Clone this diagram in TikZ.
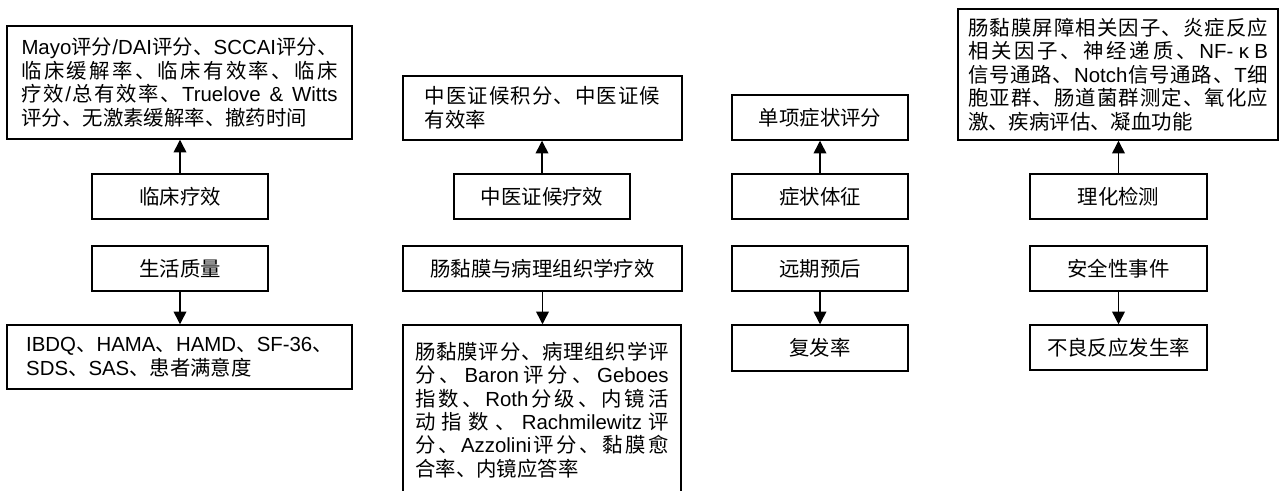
\documentclass[tikz,border=0pt]{standalone}
\usepackage{fontspec}
\setmainfont{Liberation Sans}
\newfontfamily\cjkf{Noto Sans CJK SC}
\usetikzlibrary{arrows.meta}
\newcount\cccnt
\cccnt="4E00
\loop
  \XeTeXcharclass\cccnt=1
  \advance\cccnt by 1
\ifnum\cccnt<"A000 \repeat
\XeTeXcharclass"3001=3
\XeTeXcharclass"3002=3
\newcommand\cg{\hskip 0pt plus 1pt\relax}
\XeTeXinterchartoks 0 1 = {\cg\cjkf}
\XeTeXinterchartoks 0 3 = {\cg\cjkf}
\XeTeXinterchartoks 1 0 = {\cg\rmfamily}
\XeTeXinterchartoks 3 0 = {\cg\rmfamily}
\XeTeXinterchartoks 1 1 = {\cg}
\XeTeXinterchartoks 1 3 = {\cg}
\XeTeXinterchartoks 3 1 = {\cg}
\XeTeXinterchartoks 3 3 = {\cg}
\XeTeXinterchartoks 4095 1 = {\cjkf}
\XeTeXinterchartoks 4095 3 = {\cjkf}
\XeTeXinterchartoks 4095 0 = {\rmfamily}
\newcommand\jline[2]{\hbox to #1{#2}}
\newcommand\lline[2]{\hbox to #1{#2\hfill}}
\newcommand\boxfont{\fontsize{15.3pt}{17.6pt}\selectfont\XeTeXinterchartokenstate=1\relax}
\tikzset{
  bx/.style={draw, line width=1.1pt, rectangle, inner sep=0pt, align=center,
    font=\boxfont},
  arr/.style={line width=1.1pt, -{Triangle[length=9.5pt,width=9.5pt]}},
}
\begin{document}
\begin{tikzpicture}[x=0.75pt,y=-0.75pt]
\useasboundingbox (0,0) rectangle (1282,491);
\clip (0,0) rectangle (1282,491);
% column 1
\node[bx, minimum width=258.75pt, minimum height=84.75pt] (A1) at (179.5,82.5) {\vbox{%
\jline{237pt}{Mayo评分/DAI评分、SCCAI评分、}
\jline{237pt}{临床缓解率、临床有效率、临床}
\jline{237pt}{疗效/总有效率、Truelove \& Witts}
\lline{237pt}{评分、无激素缓解率、撤药时间}}};
\node[bx, minimum width=132pt, minimum height=33.75pt] (A2) at (180,196.5) {临床疗效};
\node[bx, minimum width=132pt, minimum height=33.75pt] (A3) at (180,268.5) {生活质量};
\node[bx, minimum width=258.75pt, minimum height=48pt] (A4) at (179.5,357) {\vbox{%
\jline{230pt}{IBDQ、HAMA、HAMD、SF-36、}
\lline{230pt}{SDS、SAS、患者满意度}}};
% column 2
\node[bx, minimum width=209.25pt, minimum height=48pt] (B1) at (542.5,108) {\vbox{%
\jline{176.5pt}{中医证候积分、中医证候}
\lline{176.5pt}{有效率}}};
\node[bx, minimum width=132pt, minimum height=33.75pt] (B2) at (542,196.5) {中医证候疗效};
\node[bx, minimum width=209.25pt, minimum height=33.75pt] (B3) at (542.5,268.5) {肠黏膜与病理组织学疗效};
\node[bx, minimum width=208.5pt, minimum height=127.5pt] (B4) at (542,410) {\vbox{%
\jline{190pt}{肠黏膜评分、病理组织学评}
\jline{190pt}{分、Baron评分、Geboes}
\jline{190pt}{指数、Roth分级、内镜活}
\jline{190pt}{动指数、Rachmilewitz评}
\jline{190pt}{分、Azzolini评分、黏膜愈}
\lline{190pt}{合率、内镜应答率}}};
% column 3
\node[bx, minimum width=132pt, minimum height=33.75pt] (C1) at (820,117.5) {单项症状评分};
\node[bx, minimum width=132pt, minimum height=33.75pt] (C2) at (820,196.5) {症状体征};
\node[bx, minimum width=132pt, minimum height=33.75pt] (C3) at (820,268.5) {远期预后};
\node[bx, minimum width=132pt, minimum height=34.5pt] (C4) at (820,348) {复发率};
% column 4
\node[bx, minimum width=240pt, minimum height=98.25pt] (D1) at (1118,74.5) {\vbox{%
\jline{225pt}{肠黏膜屏障相关因子、炎症反应}
\jline{225pt}{相关因子、神经递质、NF-\hskip 2pt plus 1pt κ\hskip 2pt plus 1pt B}
\jline{225pt}{信号通路、Notch信号通路、T细}
\jline{225pt}{胞亚群、肠道菌群测定、氧化应}
\lline{225pt}{激、疾病评估、凝血功能}}};
\node[bx, minimum width=132.75pt, minimum height=33.75pt] (D2) at (1118.5,196.5) {理化检测};
\node[bx, minimum width=132.75pt, minimum height=33.75pt] (D3) at (1118.5,268.5) {安全性事件};
\node[bx, minimum width=132.75pt, minimum height=33.75pt] (D4) at (1118.5,347.5) {不良反应发生率};
% arrows
\draw[arr] (A2.north) -- (A1.south -| A2.north);
\draw[arr] (A3.south) -- (A4.north -| A3.south);
\draw[arr] (B2.north) -- (B1.south -| B2.north);
\draw[arr] (B3.south) -- (B4.north -| B3.south);
\draw[arr] (C2.north) -- (C1.south);
\draw[arr] (C3.south) -- (C4.north);
\draw[arr] (D2.north) -- (D1.south -| D2.north);
\draw[arr] (D3.south) -- (D4.north);
\end{tikzpicture}
\end{document}
